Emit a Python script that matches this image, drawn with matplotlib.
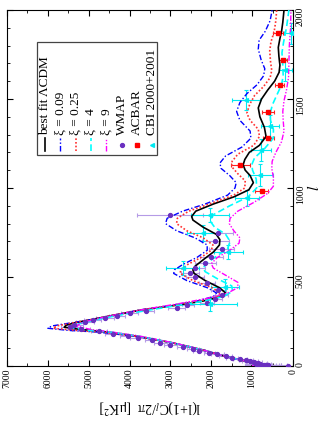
import matplotlib
matplotlib.use("Agg")
import matplotlib.pyplot as plt
from matplotlib.patches import Rectangle
from matplotlib.ticker import MultipleLocator

plt.rcParams['font.family'] = ['Liberation Serif', 'DejaVu Serif']
plt.rcParams['mathtext.fontset'] = 'stix'

# model curves: multipole l and l(l+1)C_l/2pi in muK^2
l_lcdm = [2, 10, 20, 40, 60, 90, 130, 165, 190, 205, 218, 230, 245, 260, 285, 315, 340, 365, 390, 410,
          440, 480, 520, 540, 560, 600, 640, 680, 710, 740, 780, 820, 840, 870, 910, 950, 990, 1030,
          1070, 1100, 1130, 1160, 1200, 1240, 1290, 1340, 1400, 1450, 1500, 1550, 1600, 1650, 1690,
          1740, 1790, 1840, 1880, 1930, 2000]
c_lcdm = [1000, 900, 1000, 1400, 1750, 2200, 2950, 3750, 4500, 5200, 5600, 5550, 5300, 4950, 4400, 3700,
          2900, 2200, 1750, 1650, 1800, 2150, 2420, 2450, 2400, 2180, 1950, 1800, 1790, 1880, 2200, 2450,
          2480, 2380, 1950, 1450, 1080, 970, 1050, 1170, 1220, 1180, 1070, 820, 660, 700, 810, 850, 770,
          620, 450, 340, 320, 345, 360, 320, 280, 250, 220]

l_x009 = [2, 10, 20, 40, 60, 90, 130, 165, 190, 200, 212, 225, 240, 260, 285, 315, 340, 365, 390, 410,
          440, 480, 520, 540, 570, 610, 650, 680, 720, 760, 800, 830, 870, 910, 960, 1000, 1030, 1070,
          1110, 1140, 1180, 1230, 1280, 1320, 1380, 1430, 1480, 1530, 1580, 1630, 1670, 1720, 1780,
          1830, 1880, 1940, 2000]
c_x009 = [1000, 900, 1000, 1400, 1750, 2200, 2950, 3800, 4750, 5500, 6000, 5900, 5500, 4950, 4400, 3750,
          3000, 2350, 1950, 1870, 2100, 2600, 2920, 2900, 2700, 2350, 2100, 2100, 2400, 2850, 3120, 3080,
          2700, 2150, 1600, 1420, 1390, 1550, 1760, 1790, 1650, 1250, 1030, 1050, 1300, 1380, 1300, 1130,
          880, 720, 690, 780, 850, 830, 680, 560, 510]

l_x025 = [2, 10, 20, 40, 60, 90, 130, 165, 190, 200, 212, 225, 240, 260, 285, 315, 340, 365, 390, 410,
          440, 480, 520, 540, 570, 610, 650, 680, 720, 760, 800, 830, 870, 910, 960, 1000, 1040, 1080,
          1120, 1150, 1190, 1240, 1290, 1330, 1380, 1420, 1470, 1520, 1570, 1620, 1660, 1710, 1770,
          1820, 1880, 1940, 2000]
c_x025 = [1000, 900, 1000, 1400, 1750, 2200, 2950, 3780, 4650, 5300, 5870, 5780, 5450, 4950, 4400, 3720,
          2950, 2280, 1850, 1780, 1980, 2450, 2760, 2750, 2580, 2250, 2000, 1960, 2200, 2600, 2850, 2830,
          2550, 2050, 1450, 1180, 1170, 1350, 1500, 1490, 1350, 960, 820, 850, 1050, 1130, 1060, 940,
          720, 560, 520, 550, 570, 540, 460, 420, 400]

l_x4 = [2, 10, 20, 40, 60, 90, 130, 165, 190, 200, 215, 230, 250, 275, 300, 330, 360, 390, 420, 450,
        490, 530, 550, 580, 620, 660, 700, 740, 780, 815, 850, 900, 950, 1000, 1050, 1100, 1130, 1170,
        1220, 1280, 1330, 1380, 1420, 1470, 1530, 1580, 1630, 1690, 1760, 1820, 1900, 2000]
c_x4 = [1000, 900, 1000, 1400, 1750, 2200, 2950, 3720, 4450, 5000, 5420, 5350, 5000, 4500, 3900, 3100,
        2300, 1700, 1480, 1500, 1850, 2150, 2200, 2100, 1850, 1600, 1540, 1650, 1920, 2030, 1950, 1550,
        1100, 890, 900, 990, 1010, 940, 700, 480, 480, 550, 560, 500, 380, 280, 240, 250, 270, 230,
        160, 100]

l_x9 = [2, 10, 20, 40, 60, 90, 130, 165, 190, 205, 225, 240, 260, 290, 320, 350, 380, 410, 440, 470,
        510, 550, 575, 610, 650, 690, 720, 760, 800, 830, 870, 920, 970, 1010, 1060, 1110, 1150, 1200,
        1260, 1320, 1380, 1430, 1490, 1550, 1620, 1700, 1800, 1900, 2000]
c_x9 = [1000, 900, 1000, 1400, 1750, 2200, 2920, 3680, 4400, 4950, 5300, 5200, 4900, 4300, 3600, 2800,
        2100, 1600, 1350, 1350, 1650, 1950, 2000, 1850, 1550, 1320, 1300, 1450, 1560, 1540, 1350, 950,
        620, 480, 480, 520, 510, 420, 280, 220, 240, 250, 220, 160, 110, 100, 90, 60, 50]

# WMAP binned points
l_wmap = [2, 3, 4, 5, 6, 7, 8, 10, 13, 17, 22, 27, 33, 40, 47, 55, 65, 75, 85, 95, 107, 120, 132, 145,
          157, 170, 182, 195, 207, 220, 232, 245, 257, 270, 282, 295, 310, 324, 340, 356, 375, 400, 427,
          468, 500, 524, 550, 581, 615, 655, 700, 749, 848]
c_wmap = [120, 600, 750, 650, 850, 600, 700, 800, 900, 850, 950, 1050, 1150, 1300, 1500, 1650, 1850, 2050,
          2300, 2450, 2700, 3000, 3250, 3450, 3800, 4050, 4400, 4750, 5200, 5450, 5350, 5100, 4900, 4600,
          4300, 4000, 3600, 2850, 2600, 2110, 1900, 1750, 1830, 2110, 2400, 2520, 2400, 2150, 2000, 1750,
          1900, 1830, 3010]
e_wmap = [600, 450, 400, 350, 330, 300, 280, 250, 230, 210, 200, 190, 180, 170, 150, 150, 150, 140, 150,
          150, 150, 160, 160, 170, 180, 190, 200, 200, 220, 230, 220, 220, 210, 210, 200, 200, 190, 200,
          180, 170, 170, 170, 180, 200, 220, 230, 250, 260, 280, 300, 330, 370, 800]

# ACBAR
l_acbar = [985, 1129, 1279, 1425, 1579, 1719, 1869]
c_acbar = [770, 1290, 600, 610, 330, 240, 360]
e_acbar = [170, 230, 140, 150, 100, 100, 120]

# CBI 2000+2001
l_cbi = [350, 446, 551, 642, 745, 848, 942, 1073, 1213, 1348, 1494, 1663, 1869]
c_cbi = [2040, 1660, 2700, 1580, 2200, 2030, 1130, 800, 790, 563, 1150, 190, 60]
e_cbi = [680, 350, 400, 350, 400, 465, 300, 300, 250, 230, 350, 160, 150]
w_cbi = [40, 40, 40, 40, 45, 40, 45, 60, 60, 60, 55, 60, 60]

models = [
    (l_lcdm, c_lcdm, 'best fit \u039bCDM', dict(color='black', lw=1.2, ls='-')),
    (l_x009, c_x009, '\u03be = 0.09', dict(color='#0000ff', lw=1.0, ls=(0, (4, 1.5, 1, 1.5)))),
    (l_x025, c_x025, '\u03be = 0.25', dict(color='#ff3030', lw=1.2, ls=(0, (1, 1.2)))),
    (l_x4, c_x4, '\u03be = 4', dict(color='#00ffff', lw=1.2, ls=(0, (4, 2)))),
    (l_x9, c_x9, '\u03be = 9', dict(color='#ff00ff', lw=1.0, ls=(0, (4, 1.2, 1, 1.2, 1, 1.2)))),
]

fig = plt.figure(figsize=(3.27, 4.23), dpi=100)
ax = fig.add_axes([7 / 327, 57 / 423, 286 / 327, 356 / 423])

# data first (under the curves)
ax.errorbar(c_wmap, l_wmap, xerr=e_wmap, fmt='none', ecolor='#b59be6', elinewidth=0.8,
            capsize=1.5, capthick=0.8, zorder=2)
ax.errorbar(c_cbi, l_cbi, xerr=e_cbi, yerr=w_cbi, fmt='none', ecolor='#00e8f0', elinewidth=0.8,
            capsize=1.5, capthick=0.8, zorder=2)
ax.errorbar(c_acbar, l_acbar, xerr=e_acbar, fmt='none', ecolor='#ff2020', elinewidth=0.8,
            capsize=1.5, capthick=0.8, zorder=2)

for l, c, lab, st in models:
    ax.plot(c, l, zorder=3, **st)

ax.plot(c_wmap, l_wmap, 'o', color='#6a2fc0', ms=2.8, zorder=4)
ax.plot(c_acbar, l_acbar, 's', color='#ff0000', ms=2.8, zorder=4)
ax.plot(c_cbi, l_cbi, '<', color='#00e8f0', ms=2.8, zorder=4)

ax.set_xlim(7000, 0)
ax.set_ylim(0, 2000)
ax.xaxis.set_major_locator(MultipleLocator(1000))
ax.xaxis.set_minor_locator(MultipleLocator(500))
ax.yaxis.set_major_locator(MultipleLocator(500))
ax.yaxis.set_minor_locator(MultipleLocator(100))
ax.tick_params(which='both', direction='in', top=True, bottom=True, left=True, right=True,
               labelleft=False, labelright=True, labelsize=7, pad=2)
ax.tick_params(which='major', length=4)
ax.tick_params(which='minor', length=2)
plt.setp(ax.get_xticklabels(), rotation=90)
plt.setp(ax.get_yticklabels(), rotation=90)

ax.set_xlabel('l(l+1)C$_l$/2\u03c0  [\u03bcK$^2$]', rotation=180, fontsize=10, labelpad=6)
ax.yaxis.set_label_position('right')
ax.set_ylabel('$l$', rotation=90, fontsize=11, labelpad=1)

# legend drawn by hand, rotated with the plot
ax.add_patch(Rectangle((0.105, 0.593), 0.419, 0.317, transform=ax.transAxes, facecolor='white',
                       edgecolor='#444444', lw=0.9, zorder=5))
labels = [m[2] for m in models] + ['WMAP', 'ACBAR', 'CBI 2000+2001']
for i, lab in enumerate(labels):
    fx = 0.133 + i * 0.0535
    ax.text(fx, 0.648, lab, rotation=90, ha='center', va='bottom', fontsize=9.5,
            transform=ax.transAxes, zorder=6)
    if i < len(models):
        ax.plot([fx, fx], [0.603, 0.640], transform=ax.transAxes, zorder=6, **models[i][3])
for i, (mk, col) in enumerate([('o', '#6a2fc0'), ('s', '#ff0000'), ('<', '#00e8f0')]):
    fx = 0.133 + (5 + i) * 0.0535
    ax.plot([fx], [0.621], mk, color=col, ms=2.8, transform=ax.transAxes, zorder=6)

fig.savefig('out.png', dpi=100)
